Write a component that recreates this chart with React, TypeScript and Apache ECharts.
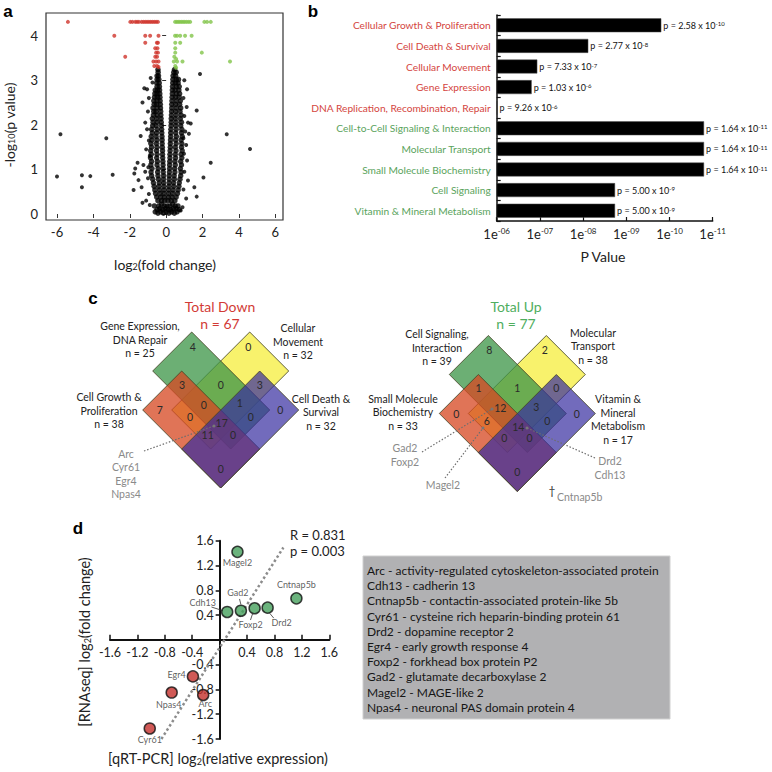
import React, { useEffect, useRef } from 'react';
import * as echarts from 'echarts';

const FONT = 'Lato, "Open Sans", sans-serif';

// ---------- Panel a: volcano plot (x = log2 fold change, y = -log10 p) ----------
// rows: [y, x1, x2, ...]
const volcanoCoreRows: number[][] = [
  [0.02, -0.45, -0.15, 0.15, 0.45],
  [0.05, -0.6, -0.3, 0, 0.3, 0.6],
  [0.1, -0.5, -0.2, 0.1, 0.25, 0.72],
  [0.12, -0.35, -0.05, 0.4, 0.55],
  [0.18, -0.65, -0.4, -0.1, 0.05, 0.2, 0.5, 0.65],
  [0.22, -0.25, 0.35],
];
const volcanoLeftArmRows: number[][] = [
  [0.3, -0.08, -0.25, -0.45], [0.38, -0.1, -0.3, -0.52], [0.46, -0.12, -0.33, -0.58],
  [0.54, -0.11, -0.36, -0.62], [0.62, -0.13, -0.4, -0.66], [0.7, -0.14, -0.38, -0.7],
  [0.78, -0.15, -0.42, -0.74], [0.86, -0.14, -0.45, -0.8], [0.94, -0.16, -0.47, -0.83],
  [1.02, -0.17, -0.44, -0.78], [1.1, -0.17, -0.5, -0.84], [1.18, -0.18, -0.48, -0.8],
  [1.26, -0.19, -0.52, -0.86], [1.34, -0.2, -0.5, -0.82], [1.42, -0.2, -0.53, -0.85],
  [1.5, -0.21, -0.5, -0.8], [1.58, -0.22, -0.54, -0.84], [1.66, -0.22, -0.5, -0.78],
  [1.74, -0.23, -0.55, -0.82], [1.82, -0.24, -0.52, -0.76], [1.9, -0.25, -0.5, -0.8],
  [1.98, -0.26, -0.55, -0.74], [2.06, -0.27, -0.5, -0.72], [2.14, -0.28, -0.52, -0.76],
  [2.22, -0.29, -0.5, -0.7], [2.3, -0.3, -0.55, -0.68], [2.38, -0.31, -0.5, -0.72],
  [2.46, -0.32, -0.52, -0.66], [2.54, -0.33, -0.5, -0.68], [2.62, -0.34, -0.48, -0.64],
  [2.7, -0.35, -0.5, -0.62], [2.78, -0.36, -0.48, -0.6], [2.86, -0.37, -0.5],
  [2.94, -0.38, -0.52], [3.02, -0.4, -0.5], [3.1, -0.42, -0.5], [3.18, -0.44], [3.24, -0.45],
];
const volcanoRightArmRows: number[][] = [
  [0.3, 0.1, 0.28, 0.48], [0.38, 0.12, 0.32, 0.55], [0.46, 0.13, 0.36, 0.62],
  [0.54, 0.14, 0.38, 0.66], [0.62, 0.15, 0.42, 0.7], [0.7, 0.16, 0.4, 0.72],
  [0.78, 0.17, 0.45, 0.76], [0.86, 0.17, 0.44, 0.8], [0.94, 0.18, 0.48, 0.82],
  [1.02, 0.19, 0.46, 0.78], [1.1, 0.19, 0.5, 0.84], [1.18, 0.2, 0.48, 0.8],
  [1.26, 0.21, 0.52, 0.86], [1.34, 0.21, 0.5, 0.82], [1.42, 0.22, 0.54, 0.88],
  [1.5, 0.23, 0.5, 0.84], [1.58, 0.23, 0.55, 0.86], [1.66, 0.24, 0.52, 0.82],
  [1.74, 0.25, 0.56, 0.88], [1.82, 0.25, 0.52, 0.84], [1.9, 0.26, 0.55, 0.86],
  [1.98, 0.27, 0.52, 0.8], [2.06, 0.28, 0.55, 0.84], [2.14, 0.28, 0.5, 0.78],
  [2.22, 0.29, 0.55, 0.82], [2.3, 0.3, 0.52, 0.76], [2.38, 0.31, 0.56, 0.8],
  [2.46, 0.31, 0.52, 0.74], [2.54, 0.32, 0.55, 0.78], [2.62, 0.33, 0.52, 0.72],
  [2.7, 0.34, 0.55, 0.74], [2.78, 0.34, 0.5, 0.7], [2.86, 0.35, 0.55, 0.72],
  [2.94, 0.36, 0.52, 0.66], [3.02, 0.37, 0.55, 0.68], [3.1, 0.38, 0.52], [3.18, 0.42, 0.55], [3.24, 0.46],
];
const volcanoScatterBlack: number[][] = [
  [-1.2, 2.82], [-1.05, 2.8], [-0.95, 2.6], [-1.3, 2.5], [-1.0, 2.3], [-1.15, 2.05], [-1.05, 1.9],
  [-1.4, 1.75], [-0.95, 1.65], [-1.1, 1.45], [-1.25, 1.1], [-1.15, 0.95], [-1.0, 0.8], [-1.35, 0.6],
  [-0.95, 0.45], [-1.1, 0.3], [-0.9, 0.2], [-1.3, 0.25], [-1.57, 1.15], [-1.7, 1.02], [-1.75, 0.91],
  [-1.52, 0.76], [-1.79, 0.54], [-0.85, 3.05], [-0.75, 2.95], [-0.9, 1.3], [-0.98, 1.05],
  [1.0, 3.0], [1.15, 2.8], [0.95, 2.6], [1.13, 2.4], [1.0, 2.2], [1.2, 2.05], [1.05, 1.85],
  [1.1, 1.55], [0.98, 1.35], [1.15, 1.2], [1.0, 0.95], [1.2, 0.75], [0.95, 0.55], [1.1, 0.35],
  [0.9, 0.15], [1.35, 2.03], [1.68, 2.32], [1.86, 3.14], [2.45, 1.15], [2.05, 0.82], [1.55, 0.6],
  [1.68, 0.39], [0.8, 0.08], [1.25, 1.8], [0.95, 1.7],
  [-5.81, 1.79], [-3.29, 1.7], [-6.0, 0.84], [-4.63, 0.87], [-4.17, 0.85], [-4.63, 0.6],
  [-2.94, 0.88], [3.33, 1.79], [4.61, 1.46],
];
const volcanoDown: number[][] = [
  [-5.4, 4.31], [-1.97, 4.31], [-1.85, 4.31], [-1.7, 4.31], [-1.6, 4.31], [-1.5, 4.31], [-1.35, 4.31],
  [-1.25, 4.31], [-1.15, 4.31], [-1.05, 4.31], [-0.95, 4.31], [-0.85, 4.31], [-0.75, 4.31],
  [-0.65, 4.31], [-0.55, 4.31], [-0.45, 4.31],
  [-2.85, 4.0], [-1.15, 4.0], [-0.88, 4.0], [-0.42, 4.0],
  [-1.15, 3.84], [-0.51, 3.84], [-0.45, 3.84], [-0.6, 3.72], [-0.48, 3.72],
  [-0.55, 3.62], [-0.45, 3.62], [-2.25, 3.53], [-0.6, 3.53], [-0.5, 3.53],
  [-0.7, 3.42], [-0.55, 3.42], [-0.42, 3.42], [-0.65, 3.32], [-0.5, 3.32], [-0.42, 3.3],
];
const volcanoUp: number[][] = [
  [0.49, 4.31], [0.58, 4.31], [0.66, 4.31], [0.75, 4.31], [0.84, 4.31], [0.93, 4.31], [1.02, 4.31],
  [1.12, 4.31], [1.22, 4.31], [1.32, 4.31], [2.1, 4.31], [2.25, 4.31], [2.45, 4.31],
  [0.49, 4.0], [0.6, 4.0], [0.77, 4.0], [1.04, 4.0], [1.4, 4.0],
  [0.5, 3.84], [0.77, 3.84], [0.5, 3.72], [0.5, 3.62], [1.96, 3.62],
  [0.45, 3.53], [0.55, 3.48], [0.42, 3.42], [0.6, 3.42], [0.9, 3.42], [3.51, 3.42],
  [0.5, 3.32], [0.55, 3.28],
];

// ---------- Panel b: bar chart ----------
const barCategories = [
  'Cellular Growth & Proliferation', 'Cell Death & Survival', 'Cellular Movement', 'Gene Expression',
  'DNA Replication, Recombination, Repair', 'Cell-to-Cell Signaling & Interaction', 'Molecular Transport',
  'Small Molecule Biochemistry', 'Cell Signaling', 'Vitamin & Mineral Metabolism',
];
const barNegLog10P = [9.81, 8.12, 6.94, 6.81, 6.02, 10.8, 10.8, 10.8, 8.74, 8.74];
const pMantissa = ['2.58', '2.77', '7.33', '1.03', '9.26', '1.64', '1.64', '1.64', '5.00', '5.00'];
const pExponent = ['-10', '-8', '-7', '-6', '-6', '-11', '-11', '-11', '-9', '-9'];
const barTickExponents = ['-06', '-07', '-08', '-09', '-10', '-11'];

// ---------- Panel c: Venn counts ----------
// region order: G, Y, G∩O, G∩Y, B∩Y, O, O∩G∩Y, B∩G∩Y, B, O∩Y, B∩G, all, O∩B∩Y, O∩B∩G, O∩B
const vennDownCounts = [4, 0, 3, 0, 3, 7, 0, 1, 0, 0, 0, 17, 11, 0, 0];
const vennUpCounts = [8, 2, 1, 1, 0, 0, 12, 3, 0, 6, 0, 14, 0, 0, 0];
const vennDownTotal = 67;
const vennUpTotal = 77;

// ---------- Panel d: qRT-PCR vs RNAseq ----------
const geneNames = ['Magel2', 'Cntnap5b', 'Cdh13', 'Gad2', 'Foxp2', 'Drd2', 'Egr4', 'Npas4', 'Arc', 'Cyr61'];
const qpcrValues = [0.26, 1.12, 0.11, 0.31, 0.51, 0.7, -0.39, -0.7, -0.24, -1.02];
const rnaseqValues = [1.42, 0.67, 0.45, 0.47, 0.51, 0.52, -0.59, -0.85, -0.89, -1.43];
const regressionLine = [[-0.85, -1.6], [0.93, 1.49]];
const leaderLines = [
  [[-0.12, 0.53], [0.05, 0.47]],
  [[0.29, 0.66], [0.31, 0.57]],
  [[0.45, 0.32], [0.48, 0.42]],
  [[0.73, 0.43], [0.79, 0.35]],
];
const corrR = '0.831';
const corrP = '0.003';
const geneDescriptions = [
  'Arc - activity-regulated cytoskeleton-associated protein',
  'Cdh13 - cadherin 13',
  'Cntnap5b - contactin-associated protein-like 5b',
  'Cyr61 - cysteine rich heparin-binding protein 61',
  'Drd2 - dopamine receptor 2',
  'Egr4 - early growth response 4',
  'Foxp2 - forkhead box protein P2',
  'Gad2 - glutamate decarboxylase 2',
  'Magel2 - MAGE-like 2',
  'Npas4 - neuronal PAS domain protein 4',
];

const rowsToPoints = (rows: number[][]) => rows.flatMap(([y, ...xs]) => xs.map((x) => [x, y]));

function txt(x: number, y: number, text: string, o: any = {}) {
  return {
    type: 'text', x, y, silent: true, z: o.z ?? 10,
    rotation: o.rotation ?? 0,
    style: {
      text, fill: o.fill ?? '#222', fontSize: o.size ?? 11, fontFamily: o.family ?? FONT,
      fontWeight: o.weight ?? 'normal',
      textAlign: o.align ?? 'center', textVerticalAlign: 'middle',
      align: o.align ?? 'center', verticalAlign: 'middle',
      rich: o.rich,
    },
  };
}

function vennGraphics(ox: number, oy: number, counts: number[]) {
  const els: any[] = [];
  const poly = (a0: number, a1: number, b0: number, b1: number) => {
    const p = (a: number, b: number) => [ox + (a + b) / 2, oy + (a - b) / 2];
    return [p(a0, b0), p(a0, b1), p(a1, b1), p(a1, b0)];
  };
  const sets = [
    { a: [-49, 29], b: [-49, 107], fill: 'rgba(247,241,95,0.92)' },
    { a: [-107, 49], b: [-29, 49], fill: 'rgba(62,150,72,0.76)' },
    { a: [-78, 78], b: [-78, 0], fill: 'rgba(214,72,34,0.76)' },
    { a: [0, 78], b: [-78, 78], fill: 'rgba(54,44,160,0.70)' },
  ];
  sets.forEach((s, i) => {
    els.push({
      type: 'polygon', silent: true, z: 2 + i,
      shape: { points: poly(s.a[0], s.a[1], s.b[0], s.b[1]) },
      style: { fill: s.fill, stroke: 'rgba(70,70,40,0.85)', lineWidth: 1 },
    });
  });
  const pos = [
    [-28, -63.5], [27.6, -63.5], [-38.7, -25.4], [0, -25.4], [39, -25.4], [-61, 0], [-17, -5.5],
    [19, -6.7], [59.6, 0], [-30.6, 7], [30, 7], [1, 13.3], [-13, 24.6], [12.3, 24.6], [0, 58.5],
  ];
  counts.forEach((c, i) => {
    els.push(txt(ox + pos[i][0], oy + pos[i][1], String(c), { size: 10.5, fill: '#2a2a2a', z: 8 }));
  });
  return els;
}

export default function App() {
  const ref = useRef<HTMLDivElement>(null);
  useEffect(() => {
    if (!ref.current) return;
    const chart = echarts.init(ref.current, undefined, { renderer: 'svg' });

    const sub = { fontSize: 9, verticalAlign: 'bottom', fontFamily: FONT, fill: '#222', color: '#222' };
    const mainRich = { fontSize: 14, fontFamily: FONT, fill: '#222', color: '#222' };
    const mainRich15 = { fontSize: 14.5, fontFamily: FONT, fill: '#222', color: '#222' };
    const g: any[] = [];
    const bold = 'Liberation Sans, Arial, sans-serif';

    // Panel letters
    g.push(txt(8, 11, 'a', { size: 17, weight: 'bold', family: bold, fill: '#000' }));
    g.push(txt(313, 11, 'b', { size: 17, weight: 'bold', family: bold, fill: '#000' }));
    g.push(txt(93, 298, 'c', { size: 17, weight: 'bold', family: bold, fill: '#000' }));
    g.push(txt(78, 528, 'd', { size: 17, weight: 'bold', family: bold, fill: '#000' }));

    // Panel a frame + titles
    g.push({ type: 'rect', silent: true, z: 1, shape: { x: 46, y: 13, width: 237, height: 207 }, style: { fill: 'none', stroke: '#333', lineWidth: 1.2 } });
    g.push(txt(165, 264, '{m|log}{s|2}{m|(fold change)}', { rich: { m: mainRich, s: sub } }));
    g.push(txt(9, 125, '{m|-log}{s|10}{m|(p value)}', { rotation: Math.PI / 2, rich: { m: mainRich, s: sub } }));

    // Panel b title
    g.push(txt(603, 256, 'P Value', { size: 14 }));

    // Panel c
    g.push(...vennGraphics(220.7, 410, vennDownCounts));
    g.push(...vennGraphics(517.3, 413.5, vennUpCounts));
    const red = '#d23b36';
    const grn = '#4fae5e';
    g.push(txt(220, 306, 'Total Down', { size: 14, fill: red }));
    g.push(txt(220, 323, `n = ${vennDownTotal}`, { size: 14, fill: red }));
    g.push(txt(516, 306, 'Total Up', { size: 14, fill: grn }));
    g.push(txt(516, 323, `n = ${vennUpTotal}`, { size: 14, fill: grn }));
    const block = (x: number, y: number, lines: string[]) =>
      lines.forEach((l, i) => g.push(txt(x, y + i * 13.5, l, { size: 10.5 })));
    block(140, 326, ['Gene Expression,', 'DNA Repair', 'n = 25']);
    block(298, 328, ['Cellular', 'Movement', 'n = 32']);
    block(109, 397, ['Cell Growth &', 'Proliferation', 'n = 38']);
    block(321, 398.5, ['Cell Death &', 'Survival', 'n = 32']);
    block(437, 334, ['Cell Signaling,', 'Interaction', 'n = 39']);
    block(593, 332.5, ['Molecular', 'Transport', 'n = 38']);
    block(403, 398.5, ['Small Molecule', 'Biochemistry', 'n = 33']);
    block(618, 399, ['Vitamin &', 'Mineral', 'Metabolism', 'n = 17']);
    const gray = '#8a8a8a';
    ['Arc', 'Cyr61', 'Egr4', 'Npas4'].forEach((l, i) => g.push(txt(126, 454 + i * 13.4, l, { size: 10.5, fill: gray })));
    g.push(txt(405, 448, 'Gad2', { size: 10.5, fill: gray }));
    g.push(txt(405, 462, 'Foxp2', { size: 10.5, fill: gray }));
    g.push(txt(443, 485, 'Magel2', { size: 10.5, fill: gray }));
    g.push(txt(610, 461, 'Drd2', { size: 10.5, fill: gray }));
    g.push(txt(610, 474.5, 'Cdh13', { size: 10.5, fill: gray }));
    g.push(txt(552, 490, '†', { size: 12, fill: '#333' }));
    g.push(txt(557, 497, 'Cntnap5b', { size: 10.5, fill: gray, align: 'left' }));
    const dotted = (x1: number, y1: number, x2: number, y2: number) =>
      g.push({ type: 'line', silent: true, z: 9, shape: { x1, y1, x2, y2 }, style: { stroke: '#6e6e6e', lineWidth: 1.2, lineDash: [1.5, 1.8] } });
    dotted(144, 451, 214, 426);
    dotted(422, 452, 492, 409);
    dotted(445, 478, 483, 428);
    dotted(595, 458, 527, 428);
    [[214, 426], [492, 409], [483, 428], [527, 428]].forEach(([cx, cy]) =>
      g.push({ type: 'circle', silent: true, z: 9, shape: { cx, cy, r: 1.5 }, style: { fill: '#777' } }));

    // Panel d titles
    g.push(txt(218, 758, '{m|[qRT-PCR] log}{s|2}{m|(relative expression)}', { rich: { m: mainRich15, s: sub } }));
    g.push(txt(84, 642, '{m|[RNAseq] log}{s|2}{m|(fold change)}', { rotation: Math.PI / 2, rich: { m: mainRich15, s: sub } }));
    g.push(txt(290, 535, `R = ${corrR}`, { size: 13, align: 'left' }));
    g.push(txt(290, 551, `p = ${corrP}`, { size: 13, align: 'left' }));

    // Legend box
    g.push({ type: 'rect', silent: true, z: 1, shape: { x: 363, y: 556, width: 307, height: 163 }, style: { fill: '#b1b1b3', stroke: '#d0d0d0', lineWidth: 1 } });
    geneDescriptions.forEach((d, i) => g.push(txt(367, 570.5 + i * 15.2, d, { size: 12, align: 'left', fill: '#161616' })));

    const labelPlacement: any[] = [
      { position: 'bottom', offset: [0, -3] },
      { position: 'top', offset: [0, 0] },
      { position: 'left', offset: [-2, -9] },
      { position: 'top', offset: [-3, -4] },
      { position: 'bottom', offset: [-4, 3] },
      { position: 'bottom', offset: [14, 1] },
      { position: 'left', offset: [2, -2] },
      { position: 'bottom', offset: [-3, -2] },
      { position: 'bottom', offset: [2, -5] },
      { position: 'bottom', offset: [0, -3] },
    ];
    const scatterData = geneNames.map((n, i) => ({
      name: n,
      value: [qpcrValues[i], rnaseqValues[i]],
      itemStyle: { color: rnaseqValues[i] > 0 ? '#46a05c' : '#c4302c' },
      label: { position: labelPlacement[i].position, offset: labelPlacement[i].offset },
    }));

    const valueLbl = (v: number) => (Math.abs(v) < 1e-9 ? '' : v.toFixed(1));
    const dGrid = { left: 110, top: 540.7, width: 219.3, height: 198.3 };

    const option: any = {
      animation: false,
      backgroundColor: '#fff',
      textStyle: { fontFamily: FONT },
      grid: [
        { left: 57, top: 35.7, width: 218.3, height: 178.3 },
        { left: 496.7, top: 15, width: 216, height: 206 },
        dGrid,
      ],
      xAxis: [
        {
          gridIndex: 0, type: 'value', min: -6, max: 6, interval: 2, offset: 6,
          axisLine: { show: false }, splitLine: { show: false },
          axisTick: { show: true, inside: false, length: 4, lineStyle: { color: '#333' } },
          axisLabel: { fontSize: 13, color: '#222', margin: 5, fontFamily: FONT },
        },
        {
          gridIndex: 1, type: 'value', min: 6, max: 11, interval: 1,
          axisLine: { show: true, lineStyle: { color: '#111', width: 1.5 } }, splitLine: { show: false },
          axisTick: { show: true, inside: true, length: 4, lineStyle: { color: '#111', width: 1.2 } },
          axisLabel: {
            margin: 6, color: '#222', fontSize: 13, fontFamily: FONT,
            formatter: (v: number) => `1e{s|${barTickExponents[Math.round(v - 6)]}}`,
            rich: { s: { fontSize: 8, verticalAlign: 'top', fontFamily: FONT, color: '#222' } },
          },
        },
        {
          gridIndex: 2, type: 'value', min: -1.6, max: 1.6, interval: 0.4, offset: -dGrid.height / 2,
          axisLine: { show: true, onZero: false, lineStyle: { color: '#111', width: 2 } }, splitLine: { show: false },
          axisTick: { show: true, inside: true, length: 5, lineStyle: { color: '#111', width: 1.5 } },
          axisLabel: { fontSize: 12.5, color: '#222', margin: 6, fontFamily: FONT, formatter: valueLbl },
        },
      ],
      yAxis: [
        {
          gridIndex: 0, type: 'value', min: 0, max: 4, interval: 1, offset: 11,
          axisLine: { show: false }, splitLine: { show: false },
          axisTick: { show: true, inside: false, length: 4, lineStyle: { color: '#333' } },
          axisLabel: { fontSize: 13, color: '#222', margin: 8, fontFamily: FONT },
        },
        {
          gridIndex: 1, type: 'category', inverse: true, data: barCategories,
          axisLine: { show: true, lineStyle: { color: '#111', width: 1.5 } },
          axisTick: { show: true, inside: true, length: 4, lineStyle: { color: '#111', width: 1.2 } },
          axisLabel: {
            margin: 6, fontSize: 10.2, fontFamily: FONT,
            formatter: (v: string) => (barCategories.indexOf(v) < 5 ? `{r|${v}}` : `{g|${v}}`),
            rich: {
              r: { color: '#d4453e', fontSize: 10.2, fontFamily: FONT },
              g: { color: '#5aa35c', fontSize: 10.2, fontFamily: FONT },
            },
          },
        },
        {
          gridIndex: 2, type: 'value', min: -1.6, max: 1.6, interval: 0.4, offset: -dGrid.width / 2,
          axisLine: { show: true, onZero: false, lineStyle: { color: '#111', width: 2 } }, splitLine: { show: false },
          axisTick: { show: true, inside: false, length: 4, lineStyle: { color: '#111', width: 1.5 } },
          axisLabel: { fontSize: 12.5, color: '#222', margin: 6, fontFamily: FONT, formatter: valueLbl },
        },
      ],
      series: [
        {
          type: 'scatter', xAxisIndex: 0, yAxisIndex: 0, clip: false, silent: true,
          symbolSize: 5.5, itemStyle: { color: '#000' },
          data: [...rowsToPoints(volcanoCoreRows), ...rowsToPoints(volcanoLeftArmRows), ...rowsToPoints(volcanoRightArmRows)],
        },
        { type: 'scatter', xAxisIndex: 0, yAxisIndex: 0, clip: false, silent: true, symbolSize: 4, itemStyle: { color: '#000' }, data: volcanoScatterBlack },
        { type: 'scatter', xAxisIndex: 0, yAxisIndex: 0, clip: false, silent: true, symbolSize: 4, itemStyle: { color: '#d0342c' }, data: volcanoDown },
        { type: 'scatter', xAxisIndex: 0, yAxisIndex: 0, clip: false, silent: true, symbolSize: 4, itemStyle: { color: '#82c44a' }, data: volcanoUp },
        {
          type: 'bar', xAxisIndex: 1, yAxisIndex: 1, barWidth: 14, silent: true, clip: true,
          itemStyle: { color: '#000', borderColor: '#555', borderWidth: 0.5 },
          data: barNegLog10P,
          label: {
            show: true, position: 'right', distance: 2, color: '#111', fontSize: 9, fontFamily: FONT,
            formatter: (p: any) => `p = ${pMantissa[p.dataIndex]} x 10{s|${pExponent[p.dataIndex]}}`,
            rich: { s: { fontSize: 6, verticalAlign: 'top', fontFamily: FONT, color: '#111' } },
          },
        },
        {
          type: 'line', xAxisIndex: 2, yAxisIndex: 2, data: regressionLine, symbol: 'none', silent: true, z: 1,
          lineStyle: { type: 'dotted', color: '#8c8c8c', width: 2.5 },
        },
        ...leaderLines.map((seg) => ({
          type: 'line', xAxisIndex: 2, yAxisIndex: 2, data: seg, symbol: 'none', silent: true, z: 1,
          lineStyle: { color: '#333', width: 0.8 },
        })),
        {
          type: 'scatter', xAxisIndex: 2, yAxisIndex: 2, silent: true, symbolSize: 11, z: 5,
          itemStyle: { borderColor: '#111', borderWidth: 1.5 },
          label: { show: true, formatter: '{b}', fontSize: 9, color: '#333', fontFamily: FONT, distance: 3 },
          data: scatterData,
        },
      ],
      graphic: g,
    };
    chart.setOption(option);
    return () => chart.dispose();
  }, []);
  return <div ref={ref} style={{ width: 772, height: 772, position: 'absolute', left: 0, top: 0 }} />;
}
